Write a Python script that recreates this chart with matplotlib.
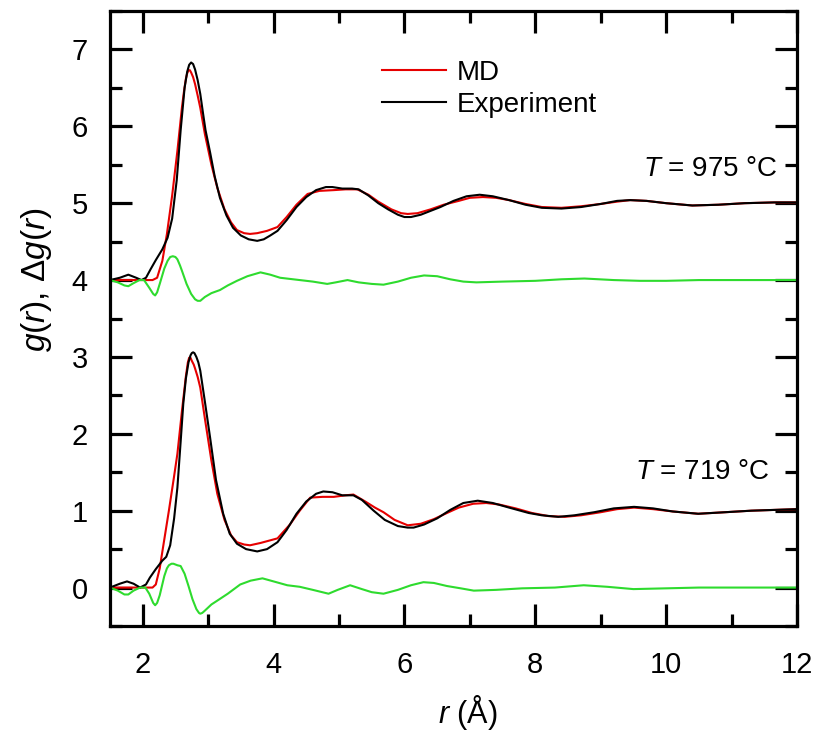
import matplotlib
matplotlib.use("Agg")
import matplotlib.pyplot as plt
from matplotlib.ticker import MultipleLocator

plt.rcParams['font.family'] = ['Liberation Sans', 'DejaVu Sans']
plt.rcParams['mathtext.fontset'] = 'custom'
plt.rcParams['mathtext.rm'] = 'Liberation Sans'
plt.rcParams['mathtext.it'] = 'Liberation Sans:italic'

# T = 975 C, experiment g(r)
r_exp_975 = [1.50, 1.65, 1.78, 1.90, 1.98, 2.05, 2.12, 2.20, 2.30, 2.38, 2.45, 2.52, 2.58,
             2.64, 2.68, 2.71, 2.74, 2.77, 2.80, 2.84, 2.88, 2.92, 2.96, 3.03, 3.10, 3.18,
             3.28, 3.38, 3.50, 3.62, 3.75, 3.85, 3.95, 4.06, 4.20, 4.35, 4.50, 4.65, 4.80,
             4.90, 5.05, 5.20, 5.30, 5.45, 5.60, 5.75, 5.90, 6.00, 6.10, 6.25, 6.40, 6.55,
             6.75, 6.95, 7.15, 7.35, 7.60, 7.85, 8.10, 8.40, 8.70, 9.00, 9.25, 9.45, 9.70,
             10.00, 10.40, 10.80, 11.20, 11.65, 12.00]
g_exp_975 = [0.00, 0.03, 0.07, 0.03, 0.00, 0.03, 0.14, 0.26, 0.40, 0.55, 0.80, 1.30, 1.95,
             2.50, 2.71, 2.80, 2.83, 2.81, 2.74, 2.60, 2.42, 2.18, 1.95, 1.66, 1.35, 1.07,
             0.84, 0.68, 0.58, 0.53, 0.51, 0.53, 0.58, 0.64, 0.78, 0.95, 1.08, 1.17, 1.21,
             1.21, 1.19, 1.19, 1.18, 1.10, 1.00, 0.92, 0.85, 0.82, 0.82, 0.85, 0.90, 0.95,
             1.03, 1.09, 1.11, 1.09, 1.04, 0.98, 0.94, 0.93, 0.95, 0.99, 1.03, 1.04, 1.03,
             1.00, 0.97, 0.98, 1.00, 1.01, 1.01]

# T = 975 C, MD g(r)
r_md_975 = [1.50, 2.00, 2.15, 2.22, 2.30, 2.37, 2.45, 2.53, 2.60, 2.63, 2.66, 2.68, 2.70,
            2.72, 2.74, 2.77, 2.80, 2.84, 2.88, 2.95, 3.05, 3.14, 3.25, 3.35, 3.44, 3.55,
            3.64, 3.75, 3.90, 4.06, 4.20, 4.35, 4.52, 4.70, 4.92, 5.10, 5.28, 5.45, 5.60,
            5.80, 5.95, 6.05, 6.20, 6.40, 6.60, 6.83, 7.00, 7.20, 7.40, 7.60, 7.85, 8.10,
            8.40, 8.70, 9.00, 9.25, 9.45, 9.70, 10.00, 10.40, 10.80, 11.20, 11.65, 12.00]
g_md_975 = [0.00, 0.00, 0.00, 0.03, 0.25, 0.60, 1.10, 1.68, 2.25, 2.45, 2.62, 2.69, 2.73,
            2.73, 2.70, 2.64, 2.55, 2.40, 2.24, 1.90, 1.50, 1.20, 0.92, 0.75, 0.65, 0.61,
            0.60, 0.61, 0.64, 0.69, 0.82, 0.98, 1.12, 1.16, 1.17, 1.18, 1.18, 1.11, 1.02,
            0.92, 0.87, 0.86, 0.87, 0.92, 0.98, 1.03, 1.07, 1.08, 1.07, 1.04, 0.99, 0.95,
            0.94, 0.96, 0.99, 1.02, 1.04, 1.03, 1.00, 0.97, 0.98, 1.00, 1.01, 1.01]

# T = 975 C, difference
r_dg_975 = [1.50, 1.62, 1.72, 1.78, 1.86, 1.95, 2.02, 2.10, 2.16, 2.19, 2.22, 2.26, 2.33,
            2.38, 2.42, 2.46, 2.50, 2.53, 2.57, 2.60, 2.67, 2.74, 2.80, 2.84, 2.88, 2.95,
            3.05, 3.18, 3.30, 3.44, 3.60, 3.80, 3.95, 4.10, 4.40, 4.60, 4.82, 4.95, 5.13,
            5.30, 5.50, 5.68, 5.90, 6.10, 6.30, 6.50, 6.70, 6.90, 7.10, 7.50, 8.00, 8.40,
            8.75, 9.20, 9.60, 10.00, 10.50, 11.00, 11.65, 12.00]
dg_975 = [0.00, -0.03, -0.07, -0.08, -0.04, 0.00, 0.00, -0.10, -0.18, -0.20, -0.16, -0.05, 0.15,
          0.25, 0.30, 0.31, 0.30, 0.27, 0.19, 0.12, -0.05, -0.18, -0.25, -0.27, -0.27, -0.22,
          -0.17, -0.13, -0.07, -0.01, 0.05, 0.10, 0.07, 0.03, 0.00, -0.02, -0.05, -0.03, 0.00,
          -0.03, -0.05, -0.06, -0.02, 0.03, 0.06, 0.05, 0.01, -0.02, -0.03, -0.02, -0.01, 0.01,
          0.02, 0.00, -0.01, -0.01, 0.00, 0.00, 0.00, 0.00]

# T = 719 C, experiment g(r)
r_exp_719 = [1.50, 1.65, 1.76, 1.86, 1.96, 2.05, 2.11, 2.20, 2.30, 2.36, 2.42, 2.48, 2.53,
             2.58, 2.62, 2.66, 2.70, 2.73, 2.75, 2.77, 2.79, 2.82, 2.85, 2.88, 2.95, 3.03,
             3.12, 3.23, 3.33, 3.44, 3.58, 3.75, 3.90, 4.06, 4.20, 4.35, 4.50, 4.65, 4.76,
             4.90, 5.05, 5.22, 5.35, 5.53, 5.70, 5.90, 6.05, 6.14, 6.30, 6.50, 6.70, 6.90,
             7.12, 7.35, 7.60, 7.90, 8.10, 8.35, 8.60, 8.90, 9.20, 9.51, 9.80, 10.10, 10.49,
             10.90, 11.30, 11.65, 12.00]
g_exp_719 = [0.00, 0.05, 0.08, 0.05, 0.00, 0.04, 0.13, 0.24, 0.35, 0.40, 0.55, 0.90, 1.30,
             1.90, 2.39, 2.72, 2.93, 3.02, 3.05, 3.06, 3.05, 3.00, 2.93, 2.82, 2.42, 1.95,
             1.40, 0.96, 0.70, 0.57, 0.50, 0.47, 0.50, 0.59, 0.75, 0.96, 1.12, 1.22, 1.25,
             1.24, 1.20, 1.20, 1.14, 1.00, 0.88, 0.80, 0.78, 0.78, 0.82, 0.90, 1.01, 1.10,
             1.13, 1.10, 1.04, 0.97, 0.94, 0.92, 0.94, 0.98, 1.03, 1.05, 1.03, 0.99, 0.96,
             0.98, 1.00, 1.01, 1.02]

# T = 719 C, MD g(r)
r_md_719 = [1.50, 2.00, 2.15, 2.20, 2.26, 2.31, 2.40, 2.48, 2.53, 2.60, 2.66, 2.69, 2.71,
            2.73, 2.75, 2.78, 2.80, 2.84, 2.88, 2.95, 3.05, 3.14, 3.25, 3.35, 3.44, 3.55,
            3.64, 3.80, 4.06, 4.25, 4.40, 4.56, 4.75, 4.92, 5.10, 5.22, 5.40, 5.55, 5.68,
            5.85, 6.05, 6.25, 6.45, 6.65, 6.83, 7.05, 7.25, 7.45, 7.70, 7.95, 8.20, 8.45,
            8.70, 9.00, 9.25, 9.51, 9.80, 10.10, 10.49, 10.90, 11.30, 11.65, 12.00]
g_md_719 = [0.00, 0.00, 0.00, 0.04, 0.25, 0.52, 1.00, 1.45, 1.74, 2.30, 2.75, 2.93, 2.99,
            2.99, 2.95, 2.90, 2.85, 2.74, 2.60, 2.20, 1.65, 1.22, 0.88, 0.68, 0.59, 0.56,
            0.55, 0.58, 0.64, 0.82, 1.00, 1.17, 1.18, 1.18, 1.20, 1.21, 1.12, 1.04, 0.98,
            0.88, 0.81, 0.83, 0.89, 0.97, 1.04, 1.09, 1.10, 1.08, 1.03, 0.97, 0.93, 0.92,
            0.94, 0.98, 1.02, 1.04, 1.02, 0.99, 0.96, 0.98, 1.00, 1.01, 1.02]

# T = 719 C, difference
r_dg_719 = [1.50, 1.62, 1.72, 1.78, 1.86, 1.96, 2.04, 2.10, 2.16, 2.19, 2.22, 2.26, 2.33,
            2.37, 2.40, 2.44, 2.47, 2.53, 2.58, 2.64, 2.70, 2.76, 2.82, 2.86, 2.88, 2.91,
            2.95, 3.05, 3.14, 3.30, 3.49, 3.65, 3.83, 4.00, 4.21, 4.40, 4.60, 4.84, 4.98,
            5.17, 5.35, 5.50, 5.68, 5.90, 6.10, 6.29, 6.45, 6.65, 6.86, 7.06, 7.40, 7.80,
            8.30, 8.74, 9.10, 9.50, 10.00, 10.50, 11.00, 11.65, 12.00]
dg_719 = [0.00, -0.04, -0.09, -0.09, -0.04, 0.00, 0.00, -0.08, -0.20, -0.23, -0.20, -0.10, 0.15,
          0.25, 0.29, 0.31, 0.31, 0.29, 0.28, 0.18, 0.02, -0.15, -0.28, -0.33, -0.34, -0.33,
          -0.30, -0.22, -0.17, -0.08, 0.04, 0.09, 0.12, 0.08, 0.03, 0.01, -0.03, -0.08, -0.03,
          0.03, -0.02, -0.06, -0.08, -0.03, 0.03, 0.07, 0.06, 0.02, -0.01, -0.04, -0.03, -0.01,
          0.00, 0.03, 0.01, -0.02, -0.01, 0.00, 0.00, 0.00, 0.00]

offset_975 = 4.0
offset_719 = 0.0

red = '#e60000'
green = '#2edb2e'

fig = plt.figure(figsize=(8.14, 7.32), dpi=100)
ax = fig.add_axes([110 / 814, 1 - 626 / 732, 687 / 814, 615 / 732])

ax.plot(r_md_975, [g + offset_975 for g in g_md_975], color=red, lw=1.5, label='MD')
ax.plot(r_exp_975, [g + offset_975 for g in g_exp_975], color='black', lw=1.5, label='Experiment')
ax.plot(r_dg_975, [d + offset_975 for d in dg_975], color=green, lw=1.5)

ax.plot(r_md_719, [g + offset_719 for g in g_md_719], color=red, lw=1.5)
ax.plot(r_exp_719, [g + offset_719 for g in g_exp_719], color='black', lw=1.5)
ax.plot(r_dg_719, [d + offset_719 for d in dg_719], color=green, lw=1.5)

ax.set_xlim(1.5, 12)
ax.set_ylim(-0.5, 7.5)
ax.xaxis.set_major_locator(MultipleLocator(2))
ax.xaxis.set_minor_locator(MultipleLocator(1))
ax.yaxis.set_major_locator(MultipleLocator(1))
ax.yaxis.set_minor_locator(MultipleLocator(0.5))

for s in ax.spines.values():
    s.set_linewidth(2.3)
ax.tick_params(which='both', direction='in', top=True, right=True, width=2.3)
ax.tick_params(which='major', length=16, labelsize=21)
ax.tick_params(which='minor', length=8.5)
ax.tick_params(axis='x', which='major', pad=18)
ax.tick_params(axis='y', which='major', pad=16)

ax.text(11.71, 5.45, r'$T$ = 975 °C', fontsize=20, ha='right', va='center')
ax.text(11.58, 1.50, r'$T$ = 719 °C', fontsize=20, ha='right', va='center')

ax.legend(loc='upper left', bbox_to_anchor=(382 / 814, 1 - 60 / 732),
          bbox_transform=fig.transFigure, frameon=False, fontsize=20,
          borderpad=0, borderaxespad=0, handlelength=2.3, handletextpad=0.4,
          labelspacing=0.2)

fig.text(468 / 814, 1 - 713 / 732, r'$r$ (Å)', fontsize=22, ha='center', va='center')
fig.text(36 / 814, 1 - 280 / 732, r'$g$($r$), $\Delta$$g$($r$)', fontsize=24,
         ha='center', va='center', rotation=90)

fig.savefig('out.png', dpi=100)
plt.close(fig)
